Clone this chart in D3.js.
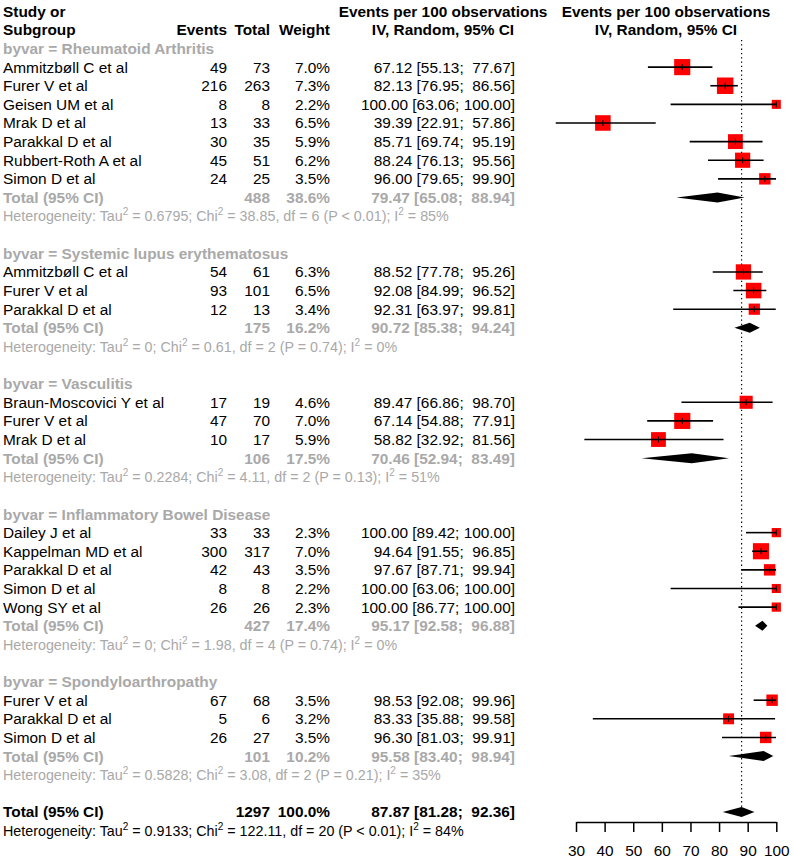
<!DOCTYPE html>
<html>
<head>
<meta charset="utf-8">
<script src="https://cdn.jsdelivr.net/npm/d3@7"></script>
<style>
  html, body { margin: 0; padding: 0; background: #fff; }
  svg text { font-family: "Liberation Sans", Arial, Helvetica, sans-serif; white-space: pre; }
</style>
</head>
<body>
<svg id="chart" width="793" height="866"></svg>
<script>
// ---------------- DATA ----------------
const subgroups = ["Rheumatoid Arthritis", "Systemic lupus erythematosus", "Vasculitis",
                   "Inflammatory Bowel Disease", "Spondyloarthropathy"];

const studyGroup  = [0,0,0,0,0,0,0, 1,1,1, 2,2,2, 3,3,3,3,3, 4,4,4];
const studyNames  = ["Ammitzbøll C et al", "Furer V et al", "Geisen UM et al", "Mrak D et al",
                     "Parakkal D et al", "Rubbert-Roth A et al", "Simon D et al",
                     "Ammitzbøll C et al", "Furer V et al", "Parakkal D et al",
                     "Braun-Moscovici Y et al", "Furer V et al", "Mrak D et al",
                     "Dailey J et al", "Kappelman MD et al", "Parakkal D et al", "Simon D et al", "Wong SY et al",
                     "Furer V et al", "Parakkal D et al", "Simon D et al"];
const studyEvents = [49, 216, 8, 13, 30, 45, 24,  54, 93, 12,  17, 47, 10,  33, 300, 42, 8, 26,  67, 5, 26];
const studyTotals = [73, 263, 8, 33, 35, 51, 25,  61, 101, 13,  19, 70, 17,  33, 317, 43, 8, 26,  68, 6, 27];
const studyWeights = [7.0, 7.3, 2.2, 6.5, 5.9, 6.2, 3.5,  6.3, 6.5, 3.4,  4.6, 7.0, 5.9,  2.3, 7.0, 3.5, 2.2, 2.3,  3.5, 3.2, 3.5];
const studyEst   = [67.12, 82.13, 100.00, 39.39, 85.71, 88.24, 96.00,  88.52, 92.08, 92.31,  89.47, 67.14, 58.82,
                    100.00, 94.64, 97.67, 100.00, 100.00,  98.53, 83.33, 96.30];
const studyLower = [55.13, 76.95, 63.06, 22.91, 69.74, 76.13, 79.65,  77.78, 84.99, 63.97,  66.86, 54.88, 32.92,
                    89.42, 91.55, 87.71, 63.06, 86.77,  92.08, 35.88, 81.03];
const studyUpper = [77.67, 86.56, 100.00, 57.86, 95.19, 95.56, 99.90,  95.26, 96.52, 99.81,  98.70, 77.91, 81.56,
                    100.00, 96.85, 99.94, 100.00, 100.00,  99.96, 99.58, 99.91];

const groupTotals  = [488, 175, 106, 427, 101];
const groupWeights = [38.6, 16.2, 17.5, 17.4, 10.2];
const groupEst     = [79.47, 90.72, 70.46, 95.17, 95.58];
const groupLower   = [65.08, 85.38, 52.94, 92.58, 83.40];
const groupUpper   = [88.94, 94.24, 83.49, 96.88, 98.94];
const groupTau2    = ["0.6795", "0", "0.2284", "0", "0.5828"];
const groupChi2    = ["38.85", "0.61", "4.11", "1.98", "3.08"];
const groupDf      = [6, 2, 2, 4, 2];
const groupP       = ["< 0.01", "= 0.74", "= 0.13", "= 0.74", "= 0.21"];
const groupI2      = [85, 0, 51, 0, 35];

const overallTotal = [1297];
const overallWeight = [100.0];
const overallCI = [87.87, 81.28, 92.36]; // est, lower, upper
const overallHet = ["0.9133", "122.11", 20, "< 0.01", 84]; // tau2, chi2, df, p, I2

const axisTicks = [30, 40, 50, 60, 70, 80, 90, 100];

// ---------------- LAYOUT ----------------
const svg = d3.select("#chart");
const FS = 15.4;
const FS_HET = 14.3;
const GREY = "#a9a9a9";
const rowY = r => 48.5 + (r - 2) * 18.62;   // text centre of row r
const base = r => rowY(r) + 5.5;             // text baseline
const x = d3.scaleLinear().domain([30, 100]).range([576, 776.3]);

const colLabel = 3, colEvents = 227, colTotal = 270, colWeight = 330, colEst = 515;
const hdrCenterL = 443, hdrCenterR = 666;

function txt(xp, r, s, opt = {}) {
  return svg.append("text")
    .attr("x", xp).attr("y", base(r))
    .attr("font-size", FS)
    .attr("text-anchor", opt.anchor || "start")
    .attr("font-weight", opt.bold ? "bold" : "normal")
    .attr("fill", opt.color || "#000")
    .text(s);
}
const f2 = v => v.toFixed(2);
const ciStr = (e, l, u) => `${f2(e)} [${f2(l).padStart(5, " ")}; ${f2(u).padStart(6, " ")}]`;

function hetText(r, tau2, chi2, df, p, i2, color) {
  const t = svg.append("text").attr("x", colLabel).attr("y", base(r) - 0.3)
    .attr("font-size", FS_HET).attr("fill", color);
  const sup = s => t.append("tspan").attr("dy", -6).attr("font-size", 10).text(s);
  const norm = (s, back) => t.append("tspan").attr("dy", back ? 6 : 0).text(s);
  norm("Heterogeneity: Tau");
  sup("2");
  norm(` = ${tau2}; Chi`, true);
  sup("2");
  norm(` = ${chi2}, df = ${df} (P ${p}); I`, true);
  sup("2");
  norm(` = ${i2}%`, true);
}

// headers
txt(colLabel, 0, "Study or", { bold: true });
txt(colLabel, 1, "Subgroup", { bold: true });
txt(colEvents, 1, "Events", { bold: true, anchor: "end" });
txt(colTotal, 1, "Total", { bold: true, anchor: "end" });
txt(colWeight, 1, "Weight", { bold: true, anchor: "end" });
txt(hdrCenterL, 0, "Events per 100 observations", { bold: true, anchor: "middle" });
txt(hdrCenterL, 1, "IV, Random, 95% CI", { bold: true, anchor: "middle" });
txt(hdrCenterR, 0, "Events per 100 observations", { bold: true, anchor: "middle" });
txt(hdrCenterR, 1, "IV, Random, 95% CI", { bold: true, anchor: "middle" });

const refG = svg.append("g");
const marks = svg.append("g");
const sqK = 6.1;

let r = 2;
subgroups.forEach((g, gi) => {
  txt(colLabel, r, `byvar = ${g}`, { bold: true, color: GREY });
  r++;
  studyNames.forEach((name, i) => {
    if (studyGroup[i] !== gi) return;
    txt(colLabel, r, name);
    txt(colEvents, r, String(studyEvents[i]), { anchor: "end" });
    txt(colTotal, r, String(studyTotals[i]), { anchor: "end" });
    txt(colWeight, r, studyWeights[i].toFixed(1) + "%", { anchor: "end" });
    txt(colEst, r, ciStr(studyEst[i], studyLower[i], studyUpper[i]), { anchor: "end" });
    const cy = rowY(r);
    const s = sqK * Math.sqrt(studyWeights[i]);
    marks.append("rect")
      .attr("x", x(studyEst[i]) - s / 2).attr("y", cy - s / 2)
      .attr("width", s).attr("height", s)
      .attr("fill", "#ff0000");
    marks.append("line")
      .attr("x1", x(studyLower[i])).attr("x2", x(studyUpper[i]))
      .attr("y1", cy).attr("y2", cy)
      .attr("stroke", "#000").attr("stroke-width", 1.6);
    marks.append("line")
      .attr("x1", x(studyEst[i])).attr("x2", x(studyEst[i]))
      .attr("y1", cy - 3).attr("y2", cy + 3)
      .attr("stroke", "#000").attr("stroke-width", 1);
    r++;
  });
  // subgroup total
  txt(colLabel, r, "Total (95% CI)", { bold: true, color: GREY });
  txt(colTotal, r, String(groupTotals[gi]), { bold: true, color: GREY, anchor: "end" });
  txt(colWeight, r, groupWeights[gi].toFixed(1) + "%", { bold: true, color: GREY, anchor: "end" });
  txt(colEst, r, ciStr(groupEst[gi], groupLower[gi], groupUpper[gi]), { bold: true, color: GREY, anchor: "end" });
  const cy = rowY(r);
  marks.append("path")
    .attr("d", `M${x(groupLower[gi])},${cy} L${x(groupEst[gi])},${cy - 5} L${x(groupUpper[gi])},${cy} L${x(groupEst[gi])},${cy + 5} Z`)
    .attr("fill", "#000");
  r++;
  hetText(r, groupTau2[gi], groupChi2[gi], groupDf[gi], groupP[gi], groupI2[gi], GREY);
  r += 2;
});

// overall
txt(colLabel, r, "Total (95% CI)", { bold: true });
txt(colTotal, r, String(overallTotal[0]), { bold: true, anchor: "end" });
txt(colWeight, r, overallWeight[0].toFixed(1) + "%", { bold: true, anchor: "end" });
txt(colEst, r, ciStr(overallCI[0], overallCI[1], overallCI[2]), { bold: true, anchor: "end" });
const oy = rowY(r);
marks.append("path")
  .attr("d", `M${x(overallCI[1])},${oy} L${x(overallCI[0])},${oy - 5} L${x(overallCI[2])},${oy} L${x(overallCI[0])},${oy + 5} Z`)
  .attr("fill", "#000");
hetText(r + 1, overallHet[0], overallHet[1], overallHet[2], overallHet[3], overallHet[4], "#000");

refG.append("line")
  .attr("x1", x(overallCI[0])).attr("x2", x(overallCI[0]))
  .attr("y1", 40).attr("y2", oy - 5)
  .attr("stroke", "#000").attr("stroke-width", 1.2)
  .attr("stroke-dasharray", "1.3,3");

// axis
const axisY = 822;
const ax = svg.append("g").attr("transform", `translate(0,${axisY})`)
  .call(d3.axisBottom(x).tickValues(axisTicks).tickFormat(d3.format("d"))
    .tickSize(10).tickSizeOuter(0).tickPadding(13));
ax.select(".domain").attr("stroke-width", 1.5);
ax.selectAll(".tick line").attr("stroke-width", 1.5);
ax.selectAll(".tick text").attr("font-size", FS)
  .attr("font-family", '"Liberation Sans", Arial, sans-serif');
</script>
</body>
</html>
